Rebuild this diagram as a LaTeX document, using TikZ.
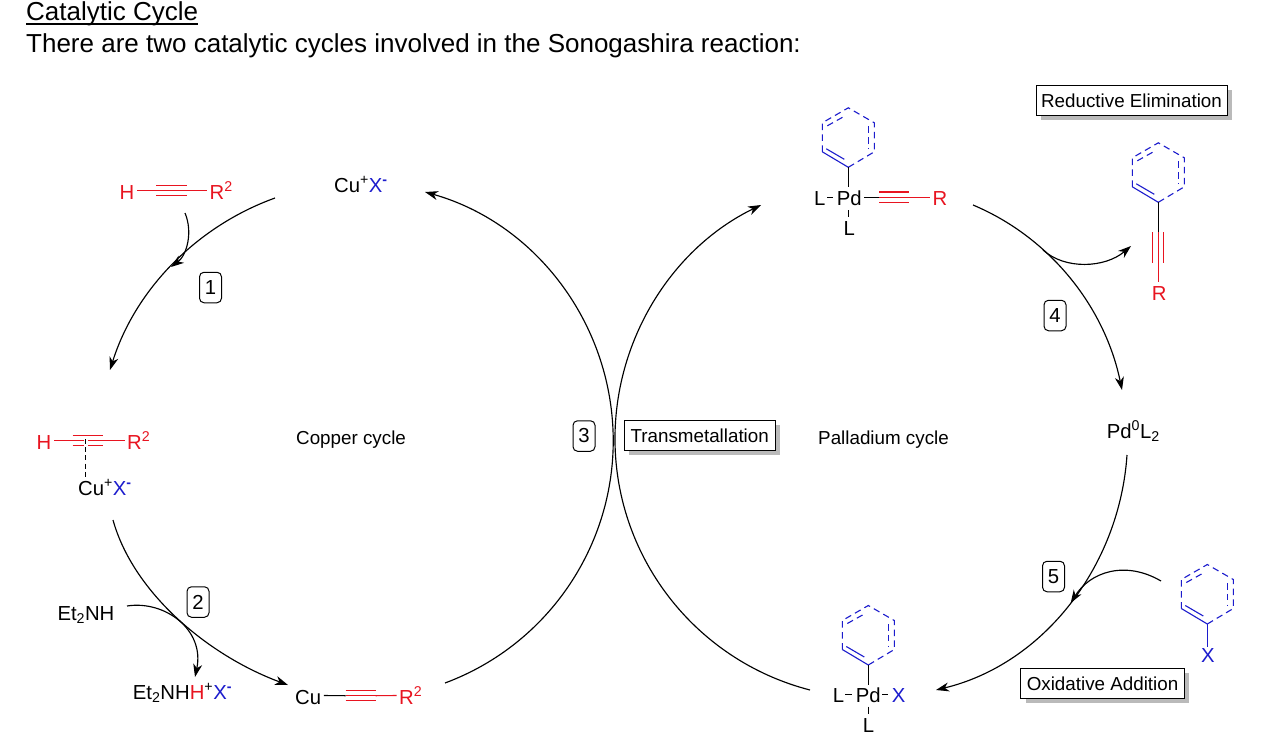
\documentclass[tikz,border=0pt]{standalone}
\usepackage{fontspec}
\setmainfont{Liberation Sans}
\usetikzlibrary{arrows.meta,shadows,calc}
\definecolor{cred}{RGB}{232,20,32}
\definecolor{cblue}{RGB}{28,28,205}
\newcommand\chemfs{\fontsize{20.3}{24}\selectfont}
\newcommand\labfs{\fontsize{18.8}{22}\selectfont}
\newcommand\minus{\textsuperscript{\textbf{-}}}
\newcommand\phring[1]{\begin{scope}[shift={(#1)},draw=cblue,line width=1.1pt]
  \draw[ringdash] (-26,-15.5) -- (-26,-44.5) -- (0,-59.5) -- (26,-44.5) -- (26,-15.5) -- (0,0);
  \draw (-26,-15.5) -- (0,0);
  \draw (-22,-18.5) -- (-4,-8);
  \draw[ringdash] (-21,-41.5) -- (-4,-51);
  \draw[ringdash] (20.5,-41) -- (20.5,-19);
\end{scope}}
\newcommand\halkyne[2]{\draw[cred,line width=1.1pt] (#1) -- (#2) ([yshift=5.2pt]#1) -- ([yshift=5.2pt]#2) ([yshift=-5.2pt]#1) -- ([yshift=-5.2pt]#2);}
\tikzset{
  chem/.style={inner xsep=2.5pt,inner ysep=0pt,anchor=base west,text height=17pt,text depth=0pt,font=\chemfs},
  plain/.style={inner sep=0pt,anchor=base west,font=\chemfs},
  lab/.style={inner sep=0pt,anchor=base west,font=\labfs},
  head/.style={inner sep=0pt,anchor=base west,font=\fontsize{26}{30}\selectfont},
  bond/.style={line width=1.1pt},
  ringdash/.style={dash pattern=on 6.5pt off 4.4pt},
  cyc/.style={line width=1.15pt,-{Stealth[length=13pt,width=9pt,inset=4pt]}},
  numbox/.style={draw,rounded corners=4.5pt,line width=1pt,minimum width=22pt,minimum height=30.5pt,inner sep=0pt,font=\chemfs},
  namebox/.style={draw,fill=white,line width=1pt,minimum height=29.5pt,inner sep=0pt,font=\labfs,
    drop shadow={shadow xshift=5pt,shadow yshift=-4.5pt,fill=black!27,opacity=1}},
}
\begin{document}
\begin{tikzpicture}[x=1pt,y=-1pt]
\useasboundingbox[fill=white] (0,0) rectangle (1281,755);
% header
\node[head] (title) at (26,20) {Catalytic Cycle};
\draw[line width=1.8pt] ([yshift=-3.6pt]title.base west) -- ([yshift=-3.6pt]title.base east);
\node[head] (sub) at (26,52) {There are two catalytic cycles involved in the Sonogashira reaction:};
% cycle names
\node[lab] (cop) at (296,444) {Copper cycle};
\node[lab] (pal) at (818,444) {Palladium cycle};
% number boxes
\node[numbox] (n1) at (210.5,287.5) {1};
\node[numbox] (n2) at (198,602) {2};
\node[numbox] (n3) at (584,436) {3};
\node[numbox] (n4) at (1055,315.5) {4};
\node[numbox] (n5) at (1053.5,576.5) {5};
% name boxes
\node[namebox,minimum width=151pt] (tm) at (699.7,435.3) {Transmetallation};
\node[namebox,minimum width=191pt] (re) at (1131.5,100.7) {Reductive Elimination};
\node[namebox,minimum width=163.5pt] (oa) at (1102.5,683.7) {Oxidative Addition};
% Top alkyne
\node[chem,text=cred] (h1) at (117,199) {H};
\node[chem,text=cred] (r1) at (207,199) {R\textsuperscript{2}};
\coordinate (t1a) at (156,190.5); \coordinate (t1b) at (186.7,190.5);
\draw[bond,cred] (h1.east) -- (t1a) (t1b) -- (r1.west);
\halkyne{t1a}{t1b}
% CuX top
\node[plain] (cux1) at (334,192) {Cu\textsuperscript{+}\textcolor{cblue}{X\minus}};
% pi complex
\node[chem,text=cred] (h2) at (34,449) {H};
\node[chem,text=cred] (r2) at (124.5,449) {R\textsuperscript{2}};
\coordinate (t2a) at (72.7,440.5); \coordinate (t2b) at (103.3,440.5);
\draw[bond,cred] (h2.east) -- (t2a) (t2b) -- (r2.west);
\halkyne{t2a}{t2b}
\node[plain] (cux2) at (78,495) {Cu\textsuperscript{+}\textcolor{cblue}{X\minus}};
\coordinate (d2a) at (85.7,439); \coordinate (d2b) at (85.7,478);
\draw[white,line width=4pt] (85.7,439) -- (85.7,449.5);
\draw[bond,dash pattern=on 5pt off 3.2pt] (d2a) -- (d2b);
% Et2NH
\node[plain] (et1) at (57.3,620) {Et\textsubscript{2}NH};
\node[plain] (et2) at (132.7,699.3) {Et\textsubscript{2}NH\textcolor{cred}{H}\textsuperscript{+}\textcolor{cblue}{X\minus}};
% Cu acetylide
\node[chem] (cu3) at (292.5,704) {Cu};
\node[chem,text=cred] (r3) at (396.5,704) {R\textsuperscript{2}};
\coordinate (t3a) at (345.7,695.7); \coordinate (t3b) at (375.7,695.7);
\draw[bond] (cu3.east) -- (t3a);
\draw[bond,cred] (t3b) -- (r3.west);
\halkyne{t3a}{t3b}
% Pd top complex
\coordinate (p1) at (848.3,167.3);
\phring{p1}
\node[chem] (l1) at (811.5,205.7) {L};
\node[chem] (pd1) at (834.2,205.7) {Pd};
\node[chem,text=cred] (r4) at (930,205.7) {R};
\node[plain] (l1b) at (843.3,235.7) {L};
\coordinate (t4a) at (879,197.2); \coordinate (t4b) at (909.3,197.2);
\draw[bond] (p1) -- (848.3,187.3);
\draw[bond] (827,197.2) -- (833,197.2);
\draw[bond] (pd1.east) -- (t4a);
\draw[bond,cred] (t4b) -- (r4.west);
\halkyne{t4a}{t4b}
\draw[bond] (848.3,210) -- (848.3,217.3);
% Product
\coordinate (p2) at (1158.3,202.3);
\phring{p2}
\node[plain,text=cred] (r5) at (1151.7,300) {R};
\coordinate (t5a) at (1158.3,232); \coordinate (t5b) at (1158.3,281.7);
\draw[bond] (p2) -- (t5a);
\draw[bond,cred] (t5a) -- (t5b);
\draw[bond,cred] (1152.8,232) -- (1152.8,262.7) (1163.8,232) -- (1163.8,262.7);
% Pd0
\node[plain] (pd0) at (1106.7,438.3) {Pd\textsuperscript{0}L\textsubscript{2}};
% ArX
\coordinate (p3) at (1207.3,624);
\phring{p3}
\node[plain,text=cblue] (x3) at (1201,662.3) {X};
\draw[bond,cblue] (p3) -- (1207.3,646.7);
% Pd bottom complex
\coordinate (p4) at (868.3,665);
\phring{p4}
\node[plain] (l4) at (832.7,702.3) {L};
\node[plain] (pd4) at (855.7,702.3) {Pd};
\node[plain,text=cblue] (x4) at (891.7,702.3) {X};
\node[plain] (l4b) at (862.7,732.3) {L};
\draw[bond] (p4) -- (868.3,685);
\draw[bond] (845,694.3) -- (852.3,694.3);
\draw[bond] (882.3,694.3) -- (888.3,694.3);
\draw[bond] (868.3,706.7) -- (868.3,714);
% ---- cycle arcs
\coordinate (a1s) at (275,198); \coordinate (a1e) at (110,370);
\draw[cyc] (a1s) .. controls (196.3,226.4) and (135,290) .. (a1e);
\coordinate (a2s) at (113,520); \coordinate (a2e) at (288,685);
\draw[cyc] (a2s) .. controls (133,592) and (207,655) .. (a2e);
\coordinate (a3s) at (445,683); \coordinate (a3m) at (613,430); \coordinate (a3e) at (425,192);
\draw[cyc] (a3s) .. controls (549.9,644) and (617.7,541.8) .. (a3m) .. controls (608.3,318.2) and (532.7,222.4) .. (a3e);
\coordinate (a4s) at (810,690); \coordinate (a4m) at (615,435); \coordinate (a4e) at (761,205);
\draw[cyc] (a4s) .. controls (694,660.1) and (613.3,554.9) .. (a4m) .. controls (616.4,337.1) and (672.9,247.8) .. (a4e);
\coordinate (a5s) at (973,205); \coordinate (a5e) at (1122,390);
\draw[cyc] (a5s) .. controls (1050.5,237.6) and (1105,307.4) .. (a5e);
\coordinate (a6s) at (1127,455); \coordinate (a6e) at (936,690);
\draw[cyc] (a6s) .. controls (1119.5,565.8) and (1043.9,664) .. (a6e);
% ---- side arrows
\coordinate (s1s) at (185,213); \coordinate (s1e) at (171,267);
\draw[cyc] (s1s) .. controls (193,232) and (187,255) .. (s1e);
\coordinate (s2s) at (127,606); \coordinate (s2e) at (195,677);
\draw[cyc] (s2s) .. controls (165,600) and (205,630) .. (s2e);
\coordinate (s4s) at (1043,250); \coordinate (s4e) at (1131,246);
\draw[cyc] (s4s) .. controls (1065,270) and (1105,268) .. (s4e);
\coordinate (s5s) at (1161,581); \coordinate (s5e) at (1070.7,603);
\draw[cyc] (s5s) .. controls (1125,560) and (1090,572) .. (s5e);
\end{tikzpicture}
\end{document}
